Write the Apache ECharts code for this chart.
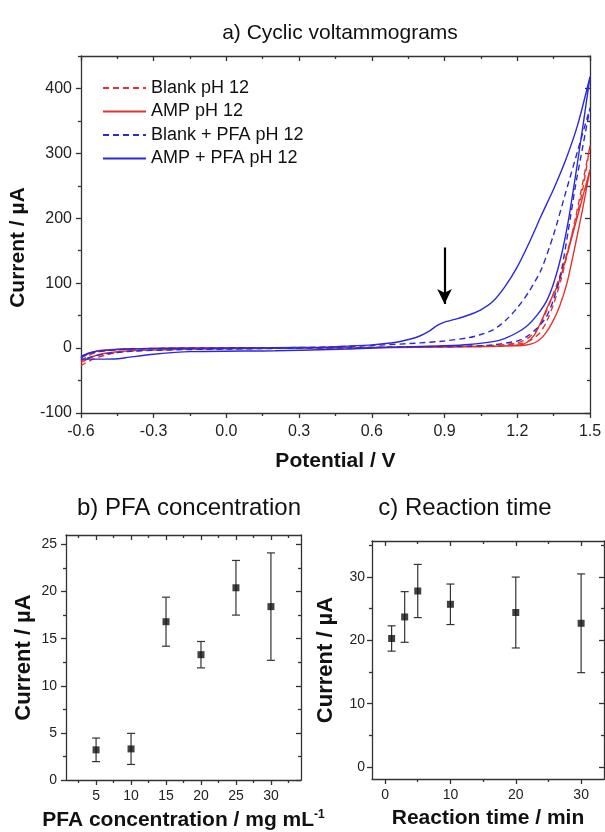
<!DOCTYPE html>
<html>
<head>
<meta charset="utf-8">
<script src="https://cdn.jsdelivr.net/npm/echarts@6/dist/echarts.min.js"></script>
<style>
html,body{margin:0;padding:0;background:#fff;}
#c{width:605px;height:832px;}
</style>
</head>
<body>
<div id="c"></div>
<script>
// ---------- Data: a) Cyclic voltammograms (potential V, current µA) ----------
const blankFwd = [[-0.6,-20],[-0.57,-12],[-0.54,-7],[-0.5,-4],[-0.45,-2.5],[-0.4,-1.5],[-0.3,-0.5],[-0.1,0],[0.2,0.5],[0.5,1],[0.8,1.5],[1.0,2.5],[1.1,4],[1.15,5.5],[1.2,8],[1.25,17],[1.28,28],[1.31,48],[1.34,75],[1.37,105],[1.4,140],[1.44,195],[1.47,245],[1.5,312]];
const blankRev = [[1.5,312],[1.47,255],[1.44,200],[1.41,150],[1.38,105],[1.35,68],[1.32,40],[1.29,22],[1.25,11],[1.2,6],[1.1,3],[0.9,2],[0.6,1],[0.3,0],[0.0,-1],[-0.2,-2],[-0.35,-3.5],[-0.45,-7],[-0.5,-11],[-0.55,-17],[-0.6,-27]];
const ampFwd = [[-0.6,-15],[-0.57,-9],[-0.54,-5],[-0.5,-3],[-0.4,-1],[-0.2,0],[0.2,0.5],[0.6,1],[0.9,2],[1.1,3],[1.21,5],[1.24,9],[1.27,20],[1.3,42],[1.33,68],[1.37,100],[1.41,150],[1.45,205],[1.5,275]];
const ampRev = [[1.5,275],[1.47,215],[1.44,160],[1.405,100],[1.375,65],[1.345,40],[1.315,22],[1.285,11],[1.255,6],[1.22,4],[1.0,2],[0.6,0.5],[0.2,-0.5],[0.0,-1],[-0.2,-2],[-0.4,-4],[-0.5,-8],[-0.55,-13],[-0.6,-22]];
const pfaFwd = [[-0.6,-15],[-0.57,-9],[-0.54,-6],[-0.5,-4],[-0.4,-1.5],[-0.2,-0.5],[0.2,0.5],[0.4,1.5],[0.6,4],[0.8,8],[0.9,11],[1.0,16],[1.05,21],[1.1,28],[1.15,42],[1.2,62],[1.25,88],[1.3,122],[1.35,175],[1.4,240],[1.45,305],[1.5,370]];
const pfaRev = [[1.5,370],[1.47,310],[1.44,250],[1.41,180],[1.38,115],[1.35,75],[1.32,48],[1.28,30],[1.24,18],[1.2,11],[1.1,5],[1.0,3],[0.8,2],[0.5,0.5],[0.2,-0.5],[0.0,-1.5],[-0.2,-2.5],[-0.4,-5],[-0.5,-9],[-0.55,-13],[-0.6,-18]];
const ampPfaFwd = [[-0.6,-13],[-0.57,-8],[-0.54,-5],[-0.5,-3.5],[-0.4,-1.5],[-0.3,-0.5],[-0.1,0],[0.2,0.5],[0.4,1.5],[0.5,3],[0.6,5],[0.7,9],[0.76,14],[0.8,19],[0.84,27],[0.87,35],[0.9,40],[0.95,45],[1.0,51],[1.05,59],[1.1,72],[1.15,95],[1.2,125],[1.25,163],[1.3,205],[1.35,245],[1.4,290],[1.45,345],[1.5,418]];
const ampPfaRev = [[1.5,418],[1.47,340],[1.44,265],[1.41,195],[1.38,140],[1.35,100],[1.32,72],[1.28,50],[1.24,34],[1.2,24],[1.15,15],[1.1,10],[1.0,5.5],[0.9,3.5],[0.8,2.5],[0.65,1],[0.5,-1.5],[0.2,-4],[-0.15,-5.5],[-0.3,-9.5],[-0.4,-14],[-0.45,-16.5],[-0.5,-17],[-0.55,-17],[-0.6,-17]];
const cvNames = ['Blank pH 12','AMP pH 12','Blank + PFA pH 12','AMP + PFA pH 12'];
const arrowV = 0.9, arrowTop = 155, arrowTip = 68;

// ---------- Data: b) PFA concentration ----------
const pfaConc = [5,10,15,20,25,30];
const pfaCurrent = [3.2,3.3,16.8,13.3,20.4,18.4];
const pfaError = [1.25,1.65,2.6,1.4,2.9,5.7];

// ---------- Data: c) Reaction time ----------
const reactTime = [1,3,5,10,20,30];
const reactCurrent = [20.3,23.7,27.8,25.7,24.4,22.7];
const reactError = [2.0,4.0,4.2,3.2,5.6,7.8];

// ---------- Tick labels ----------
const aXLabels = [-0.6,-0.3,0,0.3,0.6,0.9,1.2,1.5];
const aXMinor = [-0.45,-0.15,0.15,0.45,0.75,1.05,1.35];
const aYLabels = [-100,0,100,200,300,400];
const aYMinor = [-50,50,150,250,350,450];
const bXLabels = [5,10,15,20,25,30];
const bXMinor = [2.5,7.5,12.5,17.5,22.5,27.5,32.5];
const bYLabels = [0,5,10,15,20,25];
const bYMinor = [2.5,7.5,12.5,17.5,22.5];
const cXLabels = [0,10,20,30];
const cXMinor = [5,15,25];
const cYLabels = [0,10,20,30];
const cYMinor = [5,15,25,35];

const FONT = "'Liberation Sans', Arial, sans-serif";
const AX = '#333';
const RED = '#e5322e', BLUE = '#2a2ad8';

const xAxes = [], yAxes = [];
function addAxes(list, grid, isX, cfg) {
  const base = {type:'value', gridIndex:grid, min:cfg.min, max:cfg.max, splitLine:{show:false}};
  const line = {color:AX, width:1.3};
  const posMain = isX ? 'bottom' : 'left', posMir = isX ? 'top' : 'right';
  const idx = list.length;
  list.push(Object.assign({}, base, {
    position: posMain,
    name: cfg.name, nameLocation:'middle', nameGap: cfg.nameGap,
    nameTextStyle: Object.assign({fontFamily:FONT, fontWeight:'bold', fontSize:cfg.nameSize, color:'#111'}, cfg.nameStyle || {}),
    axisLine:{show:true, onZero:false, lineStyle:line},
    axisTick:{show:true, inside:false, length:5, customValues:cfg.labels, lineStyle:line},
    axisLabel:{show:true, customValues:cfg.labels, formatter:cfg.fmt, margin:cfg.margin, fontFamily:FONT, fontSize:cfg.labelSize, color:'#222'}
  }));
  list.push(Object.assign({}, base, {
    position: posMain,
    axisLine:{show:false, onZero:false},
    axisTick:{show:true, inside:false, length:3, customValues:cfg.minors, lineStyle:line},
    axisLabel:{show:false}
  }));
  list.push(Object.assign({}, base, {
    position: posMir,
    axisLine:{show:true, onZero:false, lineStyle:line},
    axisTick:{show:true, inside:true, length:5, customValues:cfg.labels, lineStyle:line},
    axisLabel:{show:false}
  }));
  list.push(Object.assign({}, base, {
    position: posMir,
    axisLine:{show:false, onZero:false},
    axisTick:{show:true, inside:true, length:3, customValues:cfg.minors, lineStyle:line},
    axisLabel:{show:false}
  }));
  return idx;
}

const ax = addAxes(xAxes, 0, true, {min:-0.6, max:1.5, labels:aXLabels, minors:aXMinor, fmt:v=>Number(v).toFixed(1), margin:11, labelSize:16, name:'Potential / V', nameGap:38, nameSize:21});
const ay = addAxes(yAxes, 0, false, {min:-100, max:450, labels:aYLabels, minors:aYMinor, fmt:v=>String(v), margin:9, labelSize:16, name:'Current / µA', nameGap:45, nameSize:21, nameStyle:{padding:[0,26,0,0]}});
const bx = addAxes(xAxes, 1, true, {min:0.7, max:34.3, labels:bXLabels, minors:bXMinor, fmt:v=>String(v), margin:9, labelSize:14,
  name:'PFA concentration / mg mL{s|-1}', nameGap:29, nameSize:21,
  nameStyle:{rich:{s:{fontSize:12, fontWeight:'bold', fontFamily:FONT, verticalAlign:'top', color:'#111', padding:[0,0,10,0]}}}});
const by = addAxes(yAxes, 1, false, {min:0, max:26, labels:bYLabels, minors:bYMinor, fmt:v=>String(v), margin:9, labelSize:14, name:'Current / µA', nameGap:31, nameSize:22});
const cx = addAxes(xAxes, 2, true, {min:-2, max:33.5, labels:cXLabels, minors:cXMinor, fmt:v=>String(v), margin:9, labelSize:14, name:'Reaction time / min', nameGap:29, nameSize:21});
const cy = addAxes(yAxes, 2, false, {min:-1.9, max:35.7, labels:cYLabels, minors:cYMinor, fmt:v=>String(v), margin:7, labelSize:14, name:'Current / µA', nameGap:35, nameSize:22});

function errRender(params, api) {
  const x = api.value(0), y = api.value(1), e = api.value(2);
  const t = api.coord([x, y + e]), b = api.coord([x, y - e]);
  const w = 4, st = {stroke:'#333', lineWidth:1.2};
  return {type:'group', children:[
    {type:'line', shape:{x1:t[0], y1:t[1], x2:b[0], y2:b[1]}, style:st},
    {type:'line', shape:{x1:t[0]-w, y1:t[1], x2:t[0]+w, y2:t[1]}, style:st},
    {type:'line', shape:{x1:b[0]-w, y1:b[1], x2:b[0]+w, y2:b[1]}, style:st}
  ]};
}

const cvSeries = [
  {data: blankFwd.concat(blankRev), color: RED, type:[6,4]},
  {data: ampFwd.concat(ampRev), color: RED, type:'solid'},
  {data: pfaFwd.concat(pfaRev), color: BLUE, type:[6,4]},
  {data: ampPfaFwd.concat(ampPfaRev), color: BLUE, type:'solid'}
].map((s, i) => ({
  name: cvNames[i], type:'line', xAxisIndex:ax, yAxisIndex:ay, data:s.data,
  symbol:'none', smooth:0.25, color:s.color, clip:true,
  lineStyle:{color:s.color, width:1.4, type:s.type}
}));
cvSeries[3].markLine = {
  silent:true, symbol:['none','arrow'], symbolSize:[11,15], animation:false,
  lineStyle:{color:'#000', width:2.2, type:'solid'}, label:{show:false},
  data:[[{coord:[arrowV, arrowTop]}, {coord:[arrowV, arrowTip]}]]
};

const option = {
  animation:false,
  backgroundColor:'#fff',
  title:[
    {text:'a) Cyclic voltammograms', left:335, top:18, textAlign:'center', textStyle:{fontFamily:FONT, fontSize:21, fontWeight:'normal', color:'#111'}},
    {text:'b) PFA concentration', left:184, top:491, textAlign:'center', textStyle:{fontFamily:FONT, fontSize:24, fontWeight:'normal', color:'#111'}},
    {text:'c) Reaction time', left:460, top:491, textAlign:'center', textStyle:{fontFamily:FONT, fontSize:24, fontWeight:'normal', color:'#111'}}
  ],
  legend:{
    data:cvNames, orient:'vertical', left:97, top:74, itemWidth:43, itemHeight:18, itemGap:5.5,
    selectedMode:false, itemStyle:{opacity:0}, textStyle:{fontFamily:FONT, fontSize:18, color:'#111'}
  },
  grid:[
    {left:80, right:15, top:56, bottom:419},
    {left:66, right:304, top:535, bottom:52},
    {left:372, right:1, top:541, bottom:53}
  ],
  xAxis:xAxes,
  yAxis:yAxes,
  series: cvSeries.concat([
    {type:'custom', xAxisIndex:bx, yAxisIndex:by, renderItem:errRender, encode:{x:0, y:1},
      data: pfaConc.map((x, i) => [x, pfaCurrent[i], pfaError[i]])},
    {type:'scatter', xAxisIndex:bx, yAxisIndex:by, symbol:'rect', symbolSize:7, itemStyle:{color:'#111'}, z:5,
      data: pfaConc.map((x, i) => [x, pfaCurrent[i]])},
    {type:'custom', xAxisIndex:cx, yAxisIndex:cy, renderItem:errRender, encode:{x:0, y:1},
      data: reactTime.map((x, i) => [x, reactCurrent[i], reactError[i]])},
    {type:'scatter', xAxisIndex:cx, yAxisIndex:cy, symbol:'rect', symbolSize:7, itemStyle:{color:'#111'}, z:5,
      data: reactTime.map((x, i) => [x, reactCurrent[i]])}
  ])
};

const chart = echarts.init(document.getElementById('c'), null, {renderer:'canvas'});
chart.setOption(option);
</script>
</body>
</html>
